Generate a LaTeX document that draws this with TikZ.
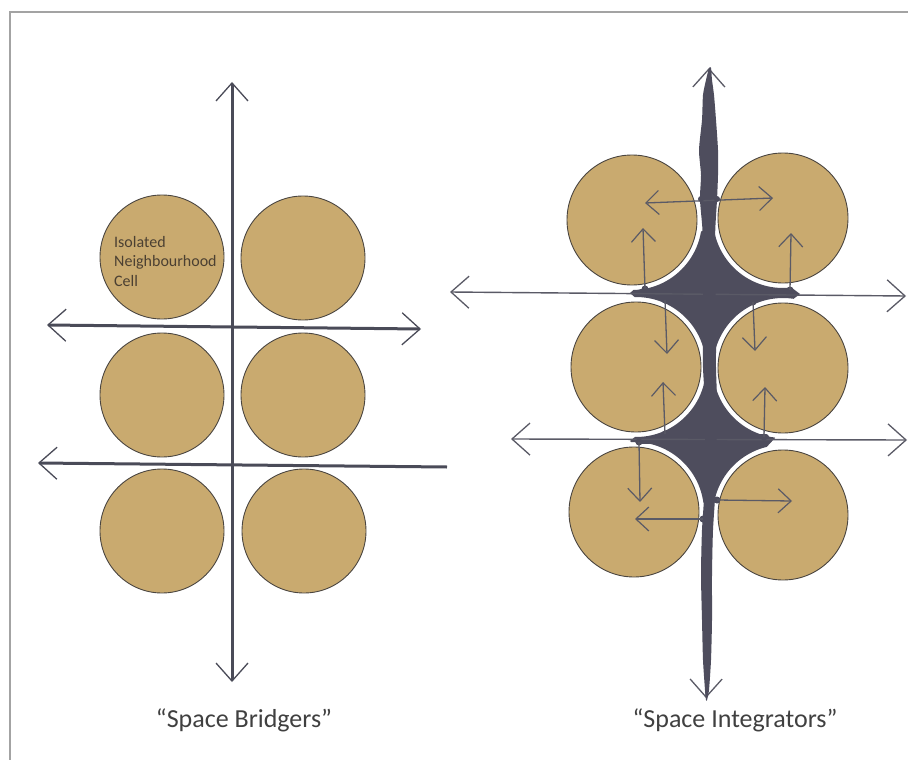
\documentclass[tikz,border=0pt]{standalone}
\usepackage{fontspec}
\setmainfont{Carlito}
\usetikzlibrary{arrows.meta}
\definecolor{celltan}{HTML}{C9AA6F}
\definecolor{celledge}{HTML}{4A4540}
\definecolor{inkgrey}{HTML}{4A4B58}
\definecolor{thingrey}{HTML}{5A5A66}
\definecolor{blobgrey}{HTML}{4E4D5D}
\definecolor{framegrey}{HTML}{A3A3A3}
\definecolor{captext}{HTML}{404040}
\definecolor{celltext}{HTML}{4B4032}

\begin{document}
\begin{tikzpicture}[x=1pt, y=-1pt,
  >={Straight Barb[length=18pt, width=32pt, line width=1.3pt]},
  cell/.style={circle, fill=celltan, draw=celledge, line width=0.9pt,
    inner sep=0pt, minimum size=#1},
  axis/.style={inkgrey, line width=3pt},
  thinline/.style={thingrey, line width=1.4pt},
  flow/.style={thingrey, line width=1.3pt,
    -{Straight Barb[length=13pt, width=24pt, line width=1.2pt]}},
  tail/.style={blobgrey, line width=6pt, line cap=round},
  caption/.style={font=\fontsize{26}{30}\selectfont, text=captext}]

\useasboundingbox (0,0) rectangle (908,760);
\fill[white] (0,0) rectangle (908,760);

% Frame (top and left edges)
\draw[framegrey, line width=1.5pt] (10,760) -- (10,12) -- (908,12);

% =========== LEFT PANEL: Space Bridgers ===========
\coordinate (bv top) at (232,82);
\coordinate (bv bot) at (232,682);
\coordinate (bh1 l) at (47,325);
\coordinate (bh1 r) at (421,329);
\coordinate (bh2 l) at (38,463);
\coordinate (bh2 r) at (447,467);

% Axes
\draw[axis, <->] (bv bot) -- (bv top);
\draw[axis, <->] (bh1 l) -- (bh1 r);
\draw[axis, <-] (bh2 l) -- (bh2 r);

% Cells
\foreach \name/\x/\y in {b11/162/257, b12/303/258, b21/162/395,
                         b22/303/395, b31/162/531, b32/304/531}
  \node[cell=124pt] (\name) at (\x,\y) {};

\node[font=\fontsize{16}{19.5}\selectfont, text=celltext, align=left,
      anchor=west, inner sep=0pt] (celllabel) at (114,261)
  {Isolated\\Neighbourhood\\Cell};

\node[caption] (bridgers) at (244,720) {“Space Bridgers”};

% =========== RIGHT PANEL: Space Integrators ===========
\coordinate (ci11) at (632,220);
\coordinate (ci12) at (783,218);
\coordinate (ci21) at (636,367);
\coordinate (ci22) at (783,368);
\coordinate (ci31) at (634,512);
\coordinate (ci32) at (783,515);

% Junction blobs, cut back by a halo round each cell
\begin{scope}[even odd rule]
  \clip (555,140) rectangle (865,600)
    (ci11) circle (70pt) (ci12) circle (70pt) (ci21) circle (70pt)
    (ci22) circle (70pt) (ci31) circle (70pt) (ci32) circle (70pt);
  \fill[blobgrey] (709,225) -- (630,293) -- (709,362) -- (800,294) -- cycle;
  \fill[blobgrey] (711,375) -- (630,441) -- (710,508) -- (775,438) -- cycle;
\end{scope}

% Tails of the blobs along the cross streets
\draw[tail] (641,292) -- (682,293);
\draw[tail] (738,294) -- (793,294);
\draw[tail] (638,441) -- (684,440);
\draw[tail] (738,438) -- (766,437);

% Axes
\coordinate (iv top) at (709,68);
\coordinate (iv bot) at (706,698);
\coordinate (ih1 l) at (450,292);
\coordinate (ih1 r) at (906,296);
\coordinate (ih2 l) at (511,439);
\coordinate (ih2 r) at (907,440);

\draw[thinline, <->] (ih1 l) -- (ih1 r);
\draw[thinline, <->] (ih2 l) -- (ih2 r);
\draw[thinline, <->] (iv bot) -- (iv top);

% Thick spine
\fill[blobgrey] plot[smooth cycle, tension=0.4] coordinates {
  (709,68) (706,80) (703,95) (702,120) (699,150) (701,175) (700,200)
  (703,240) (703,330) (703,368) (705,405) (705,480) (702,530) (701,575)
  (702,620) (703,660) (705,690) (706,700)
  (707,700) (709,690) (711,660) (712,620) (712,575) (713,530) (716,480)
  (717,405) (716,368) (716,330) (715,240) (717,200) (718,175) (718,150)
  (716,120) (714,95) (712,80) (711,68)};

% Cells
\foreach \name in {i11, i12, i21, i22, i31, i32}
  \node[cell=130pt] (\name) at (c\name) {};

% Flows out of the spine into the cells
\coordinate (h1 l) at (645,203);
\coordinate (h1 r) at (773,198);
\draw[flow, {Straight Barb[length=13pt, width=24pt, line width=1.2pt]}-{Straight Barb[length=13pt, width=24pt, line width=1.2pt]}] (h1 l) -- (h1 r);
\fill[blobgrey] (701,199) circle (3pt) (717,199) circle (3pt);

\foreach \n/\sx/\sy/\ex/\ey in {1/645/289/643/228, 2/790/290/791/233,
    3/665/300/667/354, 4/753/302/755/351, 5/665/434/663/382,
    6/764/437/765/387, 7/639/442/640/502, 8/703/519/635/519,
    9/717/500/792/501} {
  \coordinate (s\n) at (\sx,\sy);
  \coordinate (t\n) at (\ex,\ey);
  \fill[blobgrey] (s\n) circle (3.5pt);
  \draw[flow] (s\n) -- (t\n);
}

\node[caption] (integrators) at (735,720) {“Space Integrators”};

\end{tikzpicture}
\end{document}
